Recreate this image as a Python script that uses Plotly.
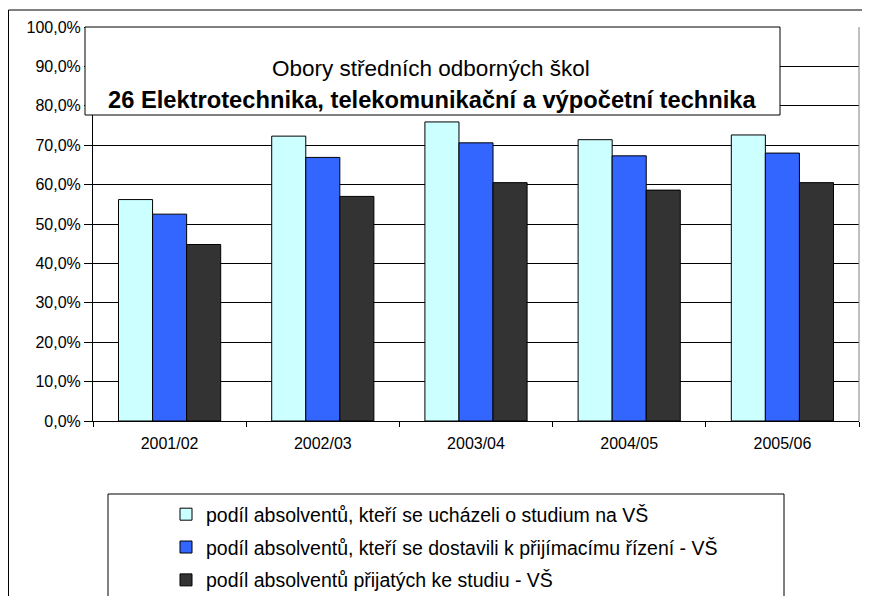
import plotly.graph_objects as go

categories = ["2001/02", "2002/03", "2003/04", "2004/05", "2005/06"]
series_names = [
    "podíl absolventů, kteří se ucházeli o studium na VŠ",
    "podíl absolventů, kteří se dostavili k přijímacímu řízení - VŠ",
    "podíl absolventů přijatých ke studiu - VŠ",
]
applied = [56.2, 72.3, 75.9, 71.4, 72.6]
attended = [52.5, 66.9, 70.6, 67.3, 68.0]
accepted = [44.8, 57.0, 60.5, 58.6, 60.5]
colors = ["#CCFFFF", "#3366FF", "#333333"]
tick_vals = [0, 10, 20, 30, 40, 50, 60, 70, 80, 90, 100]
tick_text = ["0,0%", "10,0%", "20,0%", "30,0%", "40,0%", "50,0%",
             "60,0%", "70,0%", "80,0%", "90,0%", "100,0%"]
title_line1 = "Obory středních odborných škol"
title_line2 = "26 Elektrotechnika, telekomunikační a výpočetní technika"

# page size and the browser's default 8px body margin
PAGE_W, PAGE_H = 870, 596
OFF = 8
W, H = PAGE_W - OFF, PAGE_H - OFF
# plot area in page pixels: x 93..859, y 27..421
L, R, T, B = 93 - OFF, PAGE_W - 859, 27 - OFF, PAGE_H - 421
PW, PH = W - L - R, H - T - B


def px(x):
    """page pixel x -> paper"""
    return (x - OFF - L) / PW


def py(y):
    """page pixel y -> paper"""
    return (H - B - (y - OFF)) / PH


FONT = "Liberation Sans, Arial, sans-serif"

fig = go.Figure()
for i, (name, vals) in enumerate(zip(series_names, [applied, attended, accepted])):
    fig.add_trace(go.Bar(
        x=categories, y=vals, name=name, legendgroup=str(i),
        marker=dict(color=colors[i], line=dict(color="#000000", width=1)),
    ))

fig.update_layout(
    width=W, height=H,
    margin=dict(l=L, r=R, t=T, b=B, pad=0, autoexpand=False),
    paper_bgcolor="white", plot_bgcolor="white",
    barmode="group", bargap=0.333, bargroupgap=0,
    font=dict(family=FONT, color="#000000"),
    showlegend=True,
    legend=dict(
        x=px(166), y=py(495), xanchor="left", yanchor="top",
        orientation="v", tracegroupgap=4.5,
        font=dict(family=FONT, size=19.5, color="#000000"),
        bgcolor="rgba(0,0,0,0)", borderwidth=0,
    ),
    xaxis=dict(
        showline=True, linecolor="#000000", linewidth=1,
        ticks="outside", ticklen=5, tickcolor="#000000", tickson="boundaries",
        ticklabelstandoff=8,
        showgrid=False, tickfont=dict(size=16, family=FONT, color="#000000"),
        fixedrange=True,
    ),
    yaxis=dict(
        range=[0, 100], tickvals=tick_vals, ticktext=tick_text,
        showline=True, linecolor="#000000", linewidth=1,
        ticks="outside", ticklen=8, tickcolor="#000000",
        showgrid=True, gridcolor="#000000", gridwidth=1,
        zeroline=False,
        tickfont=dict(size=16, family=FONT, color="#000000"),
        fixedrange=True,
    ),
)

# plot-area right border
fig.add_shape(type="line", xref="paper", yref="paper", x0=1, x1=1, y0=0, y1=1,
              line=dict(color="#808080", width=1))
# outer chart border (extends past the cropped picture)
fig.add_shape(type="rect", xref="paper", yref="paper",
              x0=px(8.5), x1=px(900), y0=py(640), y1=py(10),
              line=dict(color="#000000", width=1), fillcolor="rgba(0,0,0,0)",
              layer="above")
# title box
fig.add_shape(type="rect", xref="paper", yref="paper",
              x0=px(85), x1=px(780), y0=py(115), y1=py(27),
              line=dict(color="#000000", width=1), fillcolor="white",
              layer="above")
# legend box
fig.add_shape(type="rect", xref="paper", yref="paper",
              x0=px(108), x1=px(784), y0=py(640), y1=py(494),
              line=dict(color="#000000", width=1), fillcolor="rgba(0,0,0,0)",
              layer="above")

fig.add_annotation(text=title_line1, xref="paper", yref="paper",
                   x=px(431), y=py(68), showarrow=False,
                   xanchor="center", yanchor="middle",
                   font=dict(family=FONT, size=22.5, color="#000000"))
fig.add_annotation(text="<b>" + title_line2 + "</b>", xref="paper", yref="paper",
                   x=px(432), y=py(100), showarrow=False,
                   xanchor="center", yanchor="middle",
                   font=dict(family=FONT, size=23.7, color="#000000"))

fig.write_html("out.html")
